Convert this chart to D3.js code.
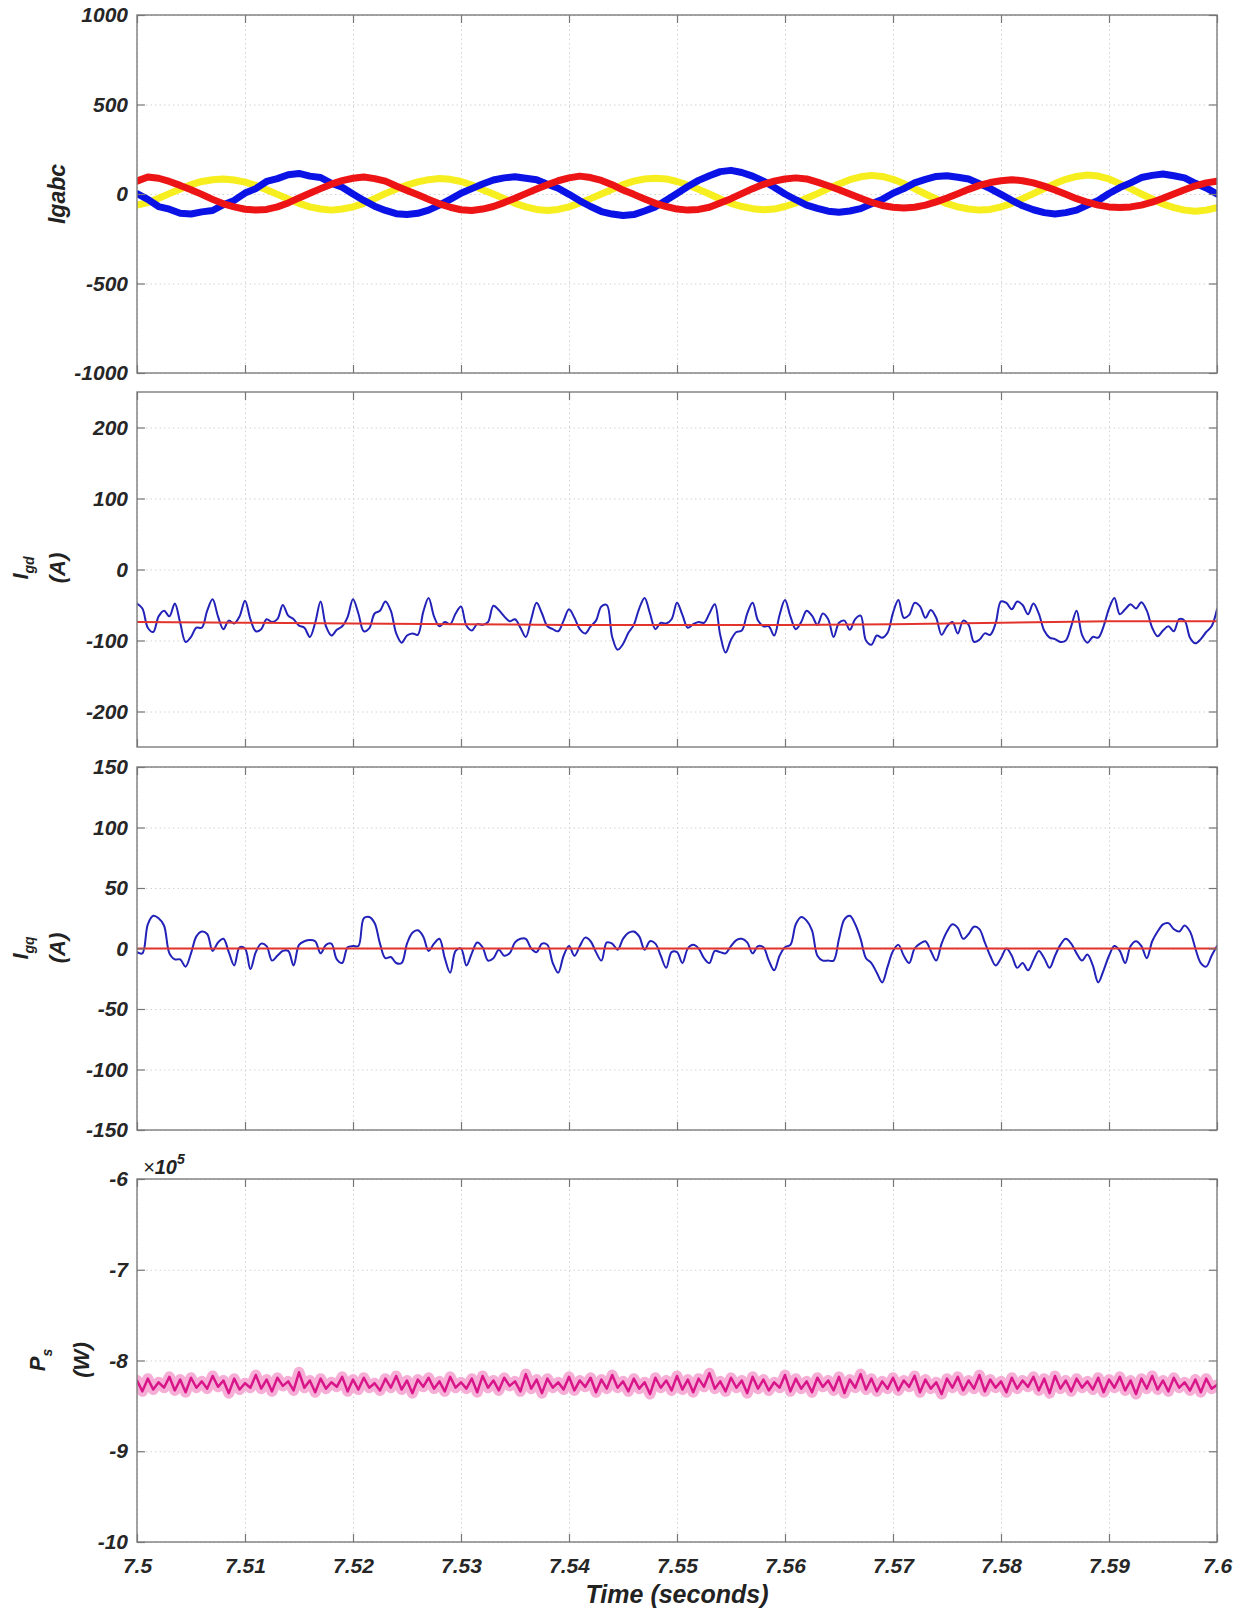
<!DOCTYPE html>
<html lang="en">
<head>
<meta charset="UTF-8">
<title>Grid currents and stator power</title>
<script src="https://cdn.jsdelivr.net/npm/d3@7"></script>
<style>
  body { margin: 0; background: #fff; }
  svg { display: block; font-family: "Liberation Sans", Arial, sans-serif; }
  .tick text { font-size: 21px; font-weight: bold; font-style: italic; fill: #262626; }
  .grid line { stroke: #d2d2d2; stroke-dasharray: 1.5,3; }
  .inner line { stroke: #777; stroke-width: 1.2; }
  .ylab { font-size: 22px; font-weight: bold; font-style: italic; fill: #222; }
</style>
</head>
<body>
<svg class="svg"></svg>
<script>
// time axis
const timeStart = 7.5, timeEnd = 7.6;
const xTicks = [7.5, 7.51, 7.52, 7.53, 7.54, 7.55, 7.56, 7.57, 7.58, 7.59, 7.6];
const xTickLabels = ['7.5', '7.51', '7.52', '7.53', '7.54', '7.55', '7.56', '7.57', '7.58', '7.59', '7.6'];

// Igabc, sampled every 1 ms
const abcStep = 0.001;
const igaBlue = [
  2, -30, -70, -85, -108, -112, -100, -92, -60, -36, 5, 30, 70, 86, 108, 115, 100, 92, 60, 38,
  0, -36, -68, -92, -110, -115, -108, -90, -62, -30, 4, 30, 56, 78, 90, 96, 88, 80, 55, 32,
  -2, -38, -70, -98, -112, -120, -115, -95, -72, -35, 3, 42, 76, 102, 125, 132, 120, 100, 72, 38,
  0, -32, -62, -80, -96, -102, -95, -82, -55, -30, 4, 30, 62, 82, 98, 102, 94, 84, 58, 30,
  -2, -35, -66, -88, -104, -112, -104, -90, -62, -36, 3, 36, 62, 92, 104, 112, 102, 90, 60, 34, 0
];
const igbRed = [
  72, 95, 88, 70, 48, 24, -2, -30, -55, -72, -85, -90, -86, -72, -50, -22, 4, 30, 55, 75,
  88, 95, 86, 72, 45, 20, -4, -30, -55, -74, -88, -92, -84, -70, -48, -24, 2, 28, 52, 74,
  90, 100, 92, 76, 52, 22, -2, -28, -52, -70, -84, -90, -86, -74, -50, -26, 2, 30, 54, 72,
  84, 90, 84, 66, 46, 24, 0, -24, -46, -64, -74, -78, -74, -62, -44, -22, 2, 26, 48, 64,
  74, 80, 74, 62, 44, 22, -2, -26, -46, -62, -72, -76, -72, -62, -46, -24, 0, 24, 46, 62, 72
];
const igcYellow = [
  -62, -48, -24, 2, 28, 52, 70, 80, 84, 78, 66, 48, 24, -2, -28, -52, -72, -84, -90, -84,
  -72, -52, -26, 2, 28, 50, 68, 80, 86, 82, 70, 50, 24, 0, -26, -52, -72, -86, -92, -86,
  -72, -50, -26, 0, 26, 52, 72, 84, 88, 84, 70, 50, 26, 0, -28, -52, -70, -82, -88, -84,
  -70, -50, -24, 2, 30, 56, 80, 96, 104, 98, 82, 58, 30, 0, -28, -54, -72, -84, -90, -86,
  -72, -52, -26, 2, 30, 58, 82, 98, 106, 100, 84, 58, 30, 0, -28, -56, -76, -90, -96, -90, -76
];

// Igd, Igq, Ps sampled every 0.5 ms
const dqStep = 0.0005;
const igdMeasured = [
  -48, -55, -82, -88, -66, -58, -66, -48, -75, -102,
  -95, -82, -82, -58, -42, -66, -84, -72, -76, -66,
  -44, -70, -87, -84, -70, -74, -70, -50, -65, -70,
  -79, -82, -95, -75, -45, -80, -93, -85, -80, -67,
  -42, -62, -87, -83, -62, -58, -45, -58, -90, -103,
  -93, -90, -92, -60, -40, -66, -80, -74, -77, -62,
  -52, -79, -86, -77, -78, -74, -51, -57, -66, -73,
  -70, -82, -95, -70, -47, -62, -80, -84, -87, -72,
  -56, -68, -84, -90, -80, -72, -52, -50, -95, -113,
  -105, -89, -78, -55, -40, -62, -84, -75, -76, -70,
  -47, -64, -82, -77, -74, -75, -62, -49, -92, -117,
  -99, -88, -86, -62, -47, -72, -80, -80, -93, -64,
  -43, -66, -84, -74, -58, -65, -78, -62, -70, -95,
  -75, -72, -85, -70, -65, -100, -106, -93, -96, -89,
  -61, -43, -68, -64, -47, -52, -68, -57, -68, -92,
  -80, -74, -90, -72, -78, -102, -99, -90, -92, -76,
  -45, -47, -56, -45, -50, -63, -48, -62, -86, -96,
  -98, -102, -100, -80, -58, -92, -103, -95, -96, -80,
  -55, -40, -63, -56, -49, -55, -46, -58, -82, -94,
  -86, -80, -87, -70, -72, -96, -104, -98, -88, -80,
  -56
];
const igqMeasured = [
  -3, -4, 20, 27, 25, 19, -4, -9, -9, -15,
  -4, 10, 14, 12, -2, 5, 8, -3, -14, 1,
  0, -17, -3, 4, 2, -10, -6, -2, -2, -14,
  3, 6, 7, 6, -4, 3, 4, -9, -12, 1,
  2, 2, 25, 26, 21, 4, -8, -7, -12, -12,
  4, 13, 15, 10, -2, 4, 8, -8, -20, -2,
  0, -14, -4, 5, 1, -10, -8, -1, -6, -4,
  5, 8, 8, 0, -3, 4, 3, -12, -20, -6,
  2, -6, 2, 9, 6, -3, -10, 5, 4, -1,
  8, 13, 14, 10, -1, 6, 4, -6, -16, -3,
  -3, -12, 0, 3, 0, -8, -12, -2, -3, -4,
  2, 7, 8, 5, -4, 2, 1, -10, -18, -6,
  1, 3, 20, 26, 23, 15, -6, -10, -10, -10,
  8, 24, 27, 20, 8, -8, -12, -20, -28, -15,
  -2, 3, -6, -12, 0, 4, 6, -2, -10, 4,
  14, 20, 17, 8, 12, 18, 16, 5, -6, -14,
  -8, 0, -6, -16, -12, -18, -10, -2, -8, -16,
  -6, 3, 8, 4, -4, -10, -5, -14, -28, -18,
  -6, 2, -2, -12, 2, 6, 2, -8, 6, 14,
  20, 21, 16, 14, 19, 14, 0, -12, -15, -6,
  2
];
// references, every 10 ms
const refStep = 0.01;
const igdRef = [-74, -75, -76, -77, -78, -78, -78, -77, -75, -73, -73];
const igqRef = [0, 0, 0, 0, 0, 0, 0, 0, 0, 0, 0];

// Ps in units of 1e5 W
const psScaled = [
  -8.22, -8.34, -8.20, -8.32, -8.24, -8.30, -8.18, -8.33, -8.21, -8.35,
  -8.19, -8.30, -8.23, -8.31, -8.17, -8.29, -8.22, -8.36, -8.20, -8.32,
  -8.25, -8.30, -8.16, -8.31, -8.21, -8.34, -8.19, -8.28, -8.23, -8.33,
  -8.13, -8.30, -8.22, -8.35, -8.20, -8.31, -8.24, -8.29, -8.18, -8.34,
  -8.21, -8.32, -8.19, -8.30, -8.25, -8.33, -8.20, -8.30, -8.17, -8.32,
  -8.22, -8.36, -8.21, -8.29, -8.19, -8.31, -8.23, -8.34, -8.18, -8.30,
  -8.24, -8.31, -8.20, -8.35, -8.17, -8.30, -8.22, -8.33, -8.19, -8.28,
  -8.23, -8.34, -8.15, -8.31, -8.21, -8.36, -8.20, -8.30, -8.24, -8.32,
  -8.18, -8.33, -8.22, -8.29, -8.19, -8.35, -8.21, -8.31, -8.16, -8.30,
  -8.23, -8.34, -8.20, -8.31, -8.24, -8.37, -8.19, -8.30, -8.22, -8.33,
  -8.17, -8.32, -8.21, -8.35, -8.20, -8.29, -8.14, -8.31, -8.23, -8.34,
  -8.19, -8.30, -8.22, -8.36, -8.18, -8.31, -8.21, -8.33, -8.24, -8.30,
  -8.16, -8.34, -8.20, -8.31, -8.23, -8.35, -8.19, -8.29, -8.22, -8.33,
  -8.18, -8.36, -8.21, -8.30, -8.15, -8.32, -8.20, -8.34, -8.23, -8.31,
  -8.19, -8.33, -8.22, -8.29, -8.17, -8.35, -8.21, -8.31, -8.24, -8.37,
  -8.20, -8.30, -8.18, -8.33, -8.22, -8.31, -8.16, -8.34, -8.21, -8.30,
  -8.23, -8.35, -8.19, -8.31, -8.22, -8.29, -8.18, -8.33, -8.20, -8.36,
  -8.17, -8.31, -8.22, -8.34, -8.20, -8.30, -8.23, -8.32, -8.19, -8.35,
  -8.21, -8.30, -8.18, -8.33, -8.22, -8.37, -8.20, -8.31, -8.17, -8.32,
  -8.22, -8.34, -8.19, -8.30, -8.24, -8.33, -8.21, -8.35, -8.20, -8.31,
  -8.27
];

// y axes
const abcTicks = [-1000, -500, 0, 500, 1000];
const igdTicks = [-200, -100, 0, 100, 200];
const igqTicks = [-150, -100, -50, 0, 50, 100, 150];
const psTicks = [-10, -9, -8, -7, -6];

const w = 1251, h = 1609;
const left = 137, right = 1217;

const svg = d3.select('.svg').attr('width', w).attr('height', h);
const xScale = d3.scaleLinear().domain([timeStart, timeEnd]).range([left, right]);

function panel(id, top, bottom, domain, ticks) {
  const yScale = d3.scaleLinear().domain(domain).range([bottom, top]);

  svg.append('clipPath').attr('id', 'clip' + id)
    .append('rect').attr('x', left).attr('y', top)
    .attr('width', right - left).attr('height', bottom - top);

  // dotted grid
  svg.append('g').attr('class', 'grid')
    .attr('transform', 'translate(0,' + bottom + ')')
    .call(d3.axisBottom(xScale).tickValues(xTicks).tickSize(-(bottom - top)).tickFormat(''))
    .call(s => s.select('.domain').remove());
  svg.append('g').attr('class', 'grid')
    .attr('transform', 'translate(' + left + ',0)')
    .call(d3.axisRight(yScale).tickValues(ticks).tickSize(right - left).tickFormat(''))
    .call(s => s.select('.domain').remove());

  const plot = svg.append('g').attr('clip-path', 'url(#clip' + id + ')');

  // box + inside ticks on all four sides
  svg.append('rect').attr('x', left).attr('y', top)
    .attr('width', right - left).attr('height', bottom - top)
    .attr('fill', 'none').attr('stroke', '#7d7d7d').attr('stroke-width', 1.4);
  svg.append('g').attr('class', 'inner').attr('transform', 'translate(' + left + ',0)')
    .call(d3.axisRight(yScale).tickValues(ticks).tickSize(8).tickFormat(''))
    .call(s => s.select('.domain').remove());
  svg.append('g').attr('class', 'inner').attr('transform', 'translate(' + right + ',0)')
    .call(d3.axisLeft(yScale).tickValues(ticks).tickSize(8).tickFormat(''))
    .call(s => s.select('.domain').remove());
  svg.append('g').attr('class', 'inner').attr('transform', 'translate(0,' + top + ')')
    .call(d3.axisBottom(xScale).tickValues(xTicks).tickSize(8).tickFormat(''))
    .call(s => s.select('.domain').remove());
  svg.append('g').attr('class', 'inner').attr('transform', 'translate(0,' + bottom + ')')
    .call(d3.axisTop(xScale).tickValues(xTicks).tickSize(8).tickFormat(''))
    .call(s => s.select('.domain').remove());

  // tick labels
  svg.append('g').attr('transform', 'translate(' + left + ',0)')
    .call(d3.axisLeft(yScale).tickValues(ticks).tickSize(0).tickPadding(9).tickFormat(d => String(d)))
    .call(s => s.select('.domain').remove());

  return { plot, yScale };
}

function trace(p, values, step, color, width, curve) {
  const line = d3.line()
    .curve(curve || d3.curveLinear)
    .x((d, i) => xScale(timeStart + i * step))
    .y(d => p.yScale(d));
  p.plot.append('path').datum(values)
    .attr('d', line)
    .attr('fill', 'none')
    .attr('stroke', color)
    .attr('stroke-width', width)
    .attr('stroke-linejoin', 'round')
    .attr('stroke-linecap', 'round');
}

// panel 1: Igabc
const p1 = panel(1, 15, 373, [-1000, 1000], abcTicks);
trace(p1, igcYellow, abcStep, '#f6ee1e', 7);
trace(p1, igaBlue, abcStep, '#0a12e6', 7);
trace(p1, igbRed, abcStep, '#ec1414', 7);

// panel 2: Igd
const smooth = d3.curveCatmullRom.alpha(0.5);
const p2 = panel(2, 392, 747, [-250, 250], igdTicks);
trace(p2, igdMeasured, dqStep, '#2222b8', 2, smooth);
trace(p2, igdRef, refStep, '#e2342c', 2);

// panel 3: Igq
const p3 = panel(3, 767, 1130, [-150, 150], igqTicks);
trace(p3, igqMeasured, dqStep, '#2222b8', 2, smooth);
trace(p3, igqRef, refStep, '#e2342c', 2);

// panel 4: Ps
const p4 = panel(4, 1179, 1542, [-10, -6], psTicks);
trace(p4, psScaled, dqStep, '#f6aed6', 11);
trace(p4, psScaled, dqStep, '#d8168a', 2.5);

// x tick labels + title
svg.append('g').attr('transform', 'translate(0,1542)')
  .call(d3.axisBottom(xScale).tickValues(xTicks).tickSize(0).tickPadding(16)
    .tickFormat((d, i) => xTickLabels[i]))
  .call(s => s.select('.domain').remove());

svg.append('text').attr('x', (left + right) / 2).attr('y', 1603)
  .attr('text-anchor', 'middle').attr('class', 'ylab').style('font-size', '25px')
  .text('Time (seconds)');

// y labels
svg.append('text').attr('class', 'ylab').attr('text-anchor', 'middle')
  .attr('transform', 'translate(65,194) rotate(-90)').style('font-size', '23px')
  .text('Igabc');

function twoLine(cy, main, sub, unit, b1, b2, subDy) {
  const g = svg.append('g').attr('transform', 'translate(0,' + cy + ') rotate(-90)');
  const t = g.append('text').attr('class', 'ylab').attr('text-anchor', 'middle').attr('y', b1);
  t.append('tspan').text(main);
  t.append('tspan').style('font-size', '14px').attr('dy', subDy).text(sub);
  g.append('text').attr('class', 'ylab').attr('text-anchor', 'middle').attr('y', b2).text(unit);
}
twoLine(568, 'I', 'gd', '(A)', 28, 65, 6);
twoLine(948, 'I', 'gq', '(A)', 28, 65, 6);
twoLine(1360, 'P', 's', '(W)', 45, 89, 7);

// exponent
const ex = svg.append('text').attr('x', 143).attr('y', 1174).attr('class', 'ylab').style('font-size', '20px');
ex.append('tspan').style('font-weight', 'normal').text('\u00d7');
ex.append('tspan').text('10');
ex.append('tspan').style('font-size', '14px').attr('dy', -10).text('5');
</script>
</body>
</html>
